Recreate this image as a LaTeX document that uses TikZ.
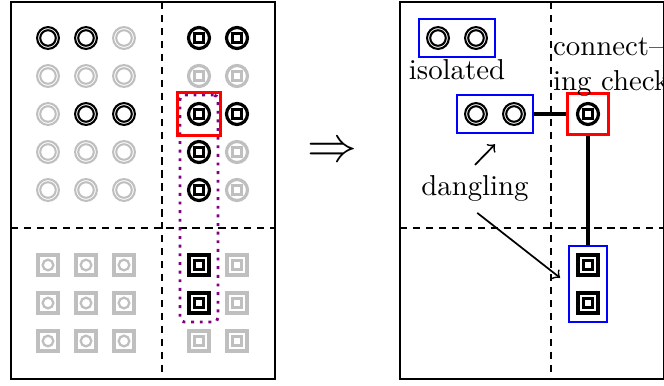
\documentclass[tikz,border=0pt]{standalone}
\usetikzlibrary{positioning,fit}
\definecolor{dotpurple}{RGB}{128,0,128}

\tikzset{
  sym/.style={rectangle, minimum size=13.2pt, inner sep=0pt, outer sep=0pt},
  faded/.style={black!25},
  % two rings
  dcirc/.style={sym, path picture={
      \draw[line width=0.72pt] (path picture bounding box.center)
        circle[radius=3.8pt] circle[radius=2.7pt];}},
  % ring around a square
  csq/.style={sym, path picture={
      \draw[line width=1.1pt] (path picture bounding box.center) circle[radius=3.65pt];
      \draw[line width=0.85pt] ([shift={(-1.55pt,-1.55pt)}]path picture bounding box.center)
        rectangle ++(3.1pt,3.1pt);}},
  % square around a ring
  sqc/.style={sym, path picture={
      \draw[line width=1.1pt] ([shift={(-3.5pt,-3.5pt)}]path picture bounding box.center)
        rectangle ++(7pt,7pt);
      \draw[line width=0.8pt] (path picture bounding box.center) circle[radius=1.85pt];}},
  % two squares
  dsq/.style={sym, path picture={
      \draw[line width=1.2pt] ([shift={(-3.4pt,-3.4pt)}]path picture bounding box.center)
        rectangle ++(6.8pt,6.8pt);
      \draw[line width=0.85pt] ([shift={(-1.55pt,-1.55pt)}]path picture bounding box.center)
        rectangle ++(3.1pt,3.1pt);}},
  frame/.style={line width=0.9pt},
  split/.style={line width=0.8pt, dash pattern=on 2.5pt off 2pt},
  group/.style={draw=blue, line width=0.7pt, inner sep=0pt},
  check/.style={draw=red, line width=0.9pt, inner sep=0.5pt},
  chain/.style={draw=dotpurple, line width=1pt, dotted, rounded corners=1.5pt, inner sep=0pt},
  link/.style={line width=1.4pt},
  pointer/.style={->, line width=0.6pt}
}

\begin{document}
\begin{tikzpicture}[x=0.0122cm, y=-0.0122cm]
  \clip (0,0) rectangle (664,385);

  % before
  \draw[frame] (11,2) rectangle (275,379);
  \draw[split] (162,2) -- (162,379) (11,228) -- (275,228);
  \foreach \r/\c in {1/1,1/2,3/2,3/3}
    \node[dcirc] (cc\r\c) at ({10+38*\c},{38*\r}) {};
  \foreach \r/\c in {1/3,2/1,2/2,2/3,3/1,4/1,4/2,4/3,5/1,5/2,5/3}
    \node[dcirc,faded] (cc\r\c) at ({10+38*\c},{38*\r}) {};
  \foreach \r/\c in {1/1,1/2,3/1,3/2,4/1,5/1}
    \node[csq] (cs\r\c) at ({161+38*\c},{38*\r}) {};
  \foreach \r/\c in {2/1,2/2,4/2,5/2}
    \node[csq,faded] (cs\r\c) at ({161+38*\c},{38*\r}) {};
  \foreach \r in {1,2,3}
    \foreach \c in {1,2,3}
      \node[sqc,faded] (sc\r\c) at ({10+38*\c},{227+38*\r}) {};
  \foreach \r/\c in {1/1,2/1}
    \node[dsq] (ss\r\c) at ({161+38*\c},{227+38*\r}) {};
  \foreach \r/\c in {3/1,1/2,2/2,3/2}
    \node[dsq,faded] (ss\r\c) at ({161+38*\c},{227+38*\r}) {};
  \node[chain, fit=(cs31)(ss21)] (trail) {};
  \node[check, inner sep=0.9pt, fit=(cs31)] (focus) {};

  \node (implies) at (332,152) {\LARGE$\Rightarrow$};

  % after
  \draw[frame] (400,2) rectangle (664,379);
  \draw[split] (551,2) -- (551,379) (400,228) -- (664,228);
  \node[dcirc] (i1) at (438,38) {};
  \node[dcirc] (i2) at (476,38) {};
  \node[group, fit=(i1)(i2)] (iso) {};
  \node[below=-3pt of iso] (isolabel) {isolated};
  \node[dcirc] (d1) at (476,114) {};
  \node[dcirc] (d2) at (514,114) {};
  \node[group, fit=(d1)(d2)] (dang) {};
  \node[csq] (c1) at (588,114) {};
  \node[check, fit=(c1)] (chk) {};
  \node[dsq] (t1) at (588,265) {};
  \node[dsq] (t2) at (588,303) {};
  \node[group, fit=(t1)(t2)] (tail) {};
  \node (dangling) at (475,188) {dangling};
  \node[align=left, anchor=north west] (note) at (543,28) {connect--\\ing check};

  \draw[link] (dang) -- (chk);
  \draw[link] (chk) -- (tail);
  \draw[pointer, shorten >=5pt] (dangling.north) -- ([xshift=3.5pt]dang.south);
  \draw[pointer, shorten <=1pt, shorten >=3.5pt] (dangling.south) -- (tail.west);
\end{tikzpicture}
\end{document}
